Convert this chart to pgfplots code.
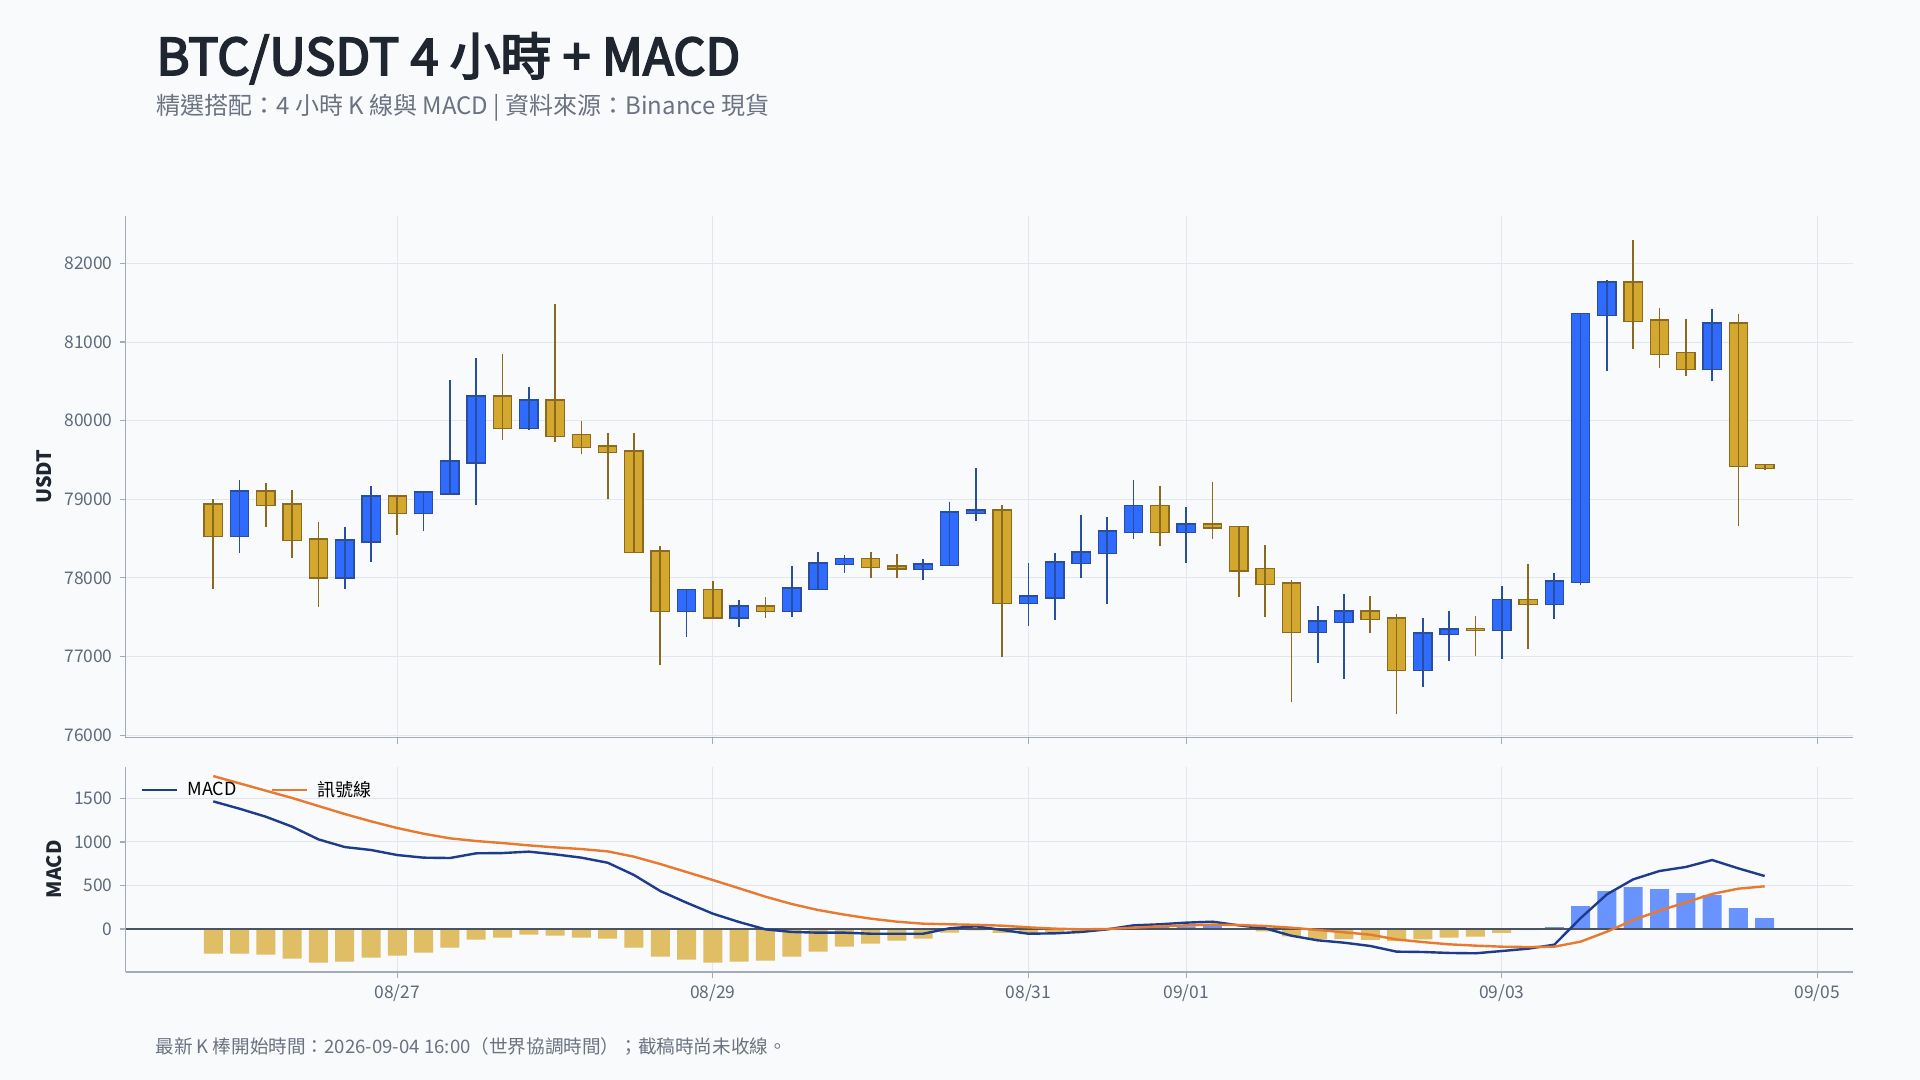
\documentclass[border=0pt]{standalone}
\usepackage{pgfplots}
\pgfplotsset{compat=1.18}
\usepackage{pgfplotstable}
\usepackage{fontspec}
\setmainfont{Noto Sans CJK TC}
\newfontfamily\titlefont{Noto Sans CJK TC}[FakeBold=3.5]
\definecolor{bg}{HTML}{F8FAFC}
\definecolor{titlec}{HTML}{1F2630}
\definecolor{subc}{HTML}{6B7280}
\definecolor{tickc}{HTML}{5F6B7A}
\definecolor{gridc}{HTML}{E2E6EE}
\definecolor{axisc}{HTML}{A3AAB8}
\definecolor{upfill}{HTML}{2F6BFF}
\definecolor{upedge}{HTML}{2A4E9E}
\definecolor{dnfill}{HTML}{D4A72E}
\definecolor{dnedge}{HTML}{8A6A1E}
\definecolor{histup}{HTML}{6994FF}
\definecolor{histdn}{HTML}{E0BE66}
\definecolor{macdc}{HTML}{1E3C8C}
\definecolor{sigc}{HTML}{E8792F}
\definecolor{zeroc}{HTML}{4B5260}

% rising candles: index, open, high, low, close
\pgfplotstableread{
x o h l c
1 78536 79241 78321 79097
5 78006 78650 77862 78475
6 78466 79171 78208 79035
8 78825 79092 78602 79084
9 79075 80516 79048 79478
10 79470 80796 78921 80306
12 79907 80428 79885 80253
18 77581 77848 77253 77848
20 77498 77721 77380 77634
22 77581 78151 77507 77862
23 77862 78330 77862 78181
24 78181 78291 78067 78234
27 78116 78243 77967 78168
28 78168 78965 78168 78829
29 78825 79399 78729 78856
31 77682 78190 77393 77761
32 77752 78317 77459 78194
33 78190 78799 77993 78321
34 78317 78777 77673 78589
35 78585 79246 78501 78908
37 78585 78904 78194 78676
42 77314 77643 76924 77445
43 77441 77796 76718 77572
46 76828 77489 76618 77292
47 77288 77581 76946 77340
49 77340 77897 76972 77713
51 77673 78063 77480 77953
52 77953 81370 77905 81352
53 81348 81790 80625 81755
57 80656 81422 80503 81234
}\upc

% falling candles: index, open, high, low, close
\pgfplotstableread{
x o h l c
0 78930 79000 77853 78536
2 79097 79206 78641 78930
3 78930 79119 78247 78483
4 78488 78711 77634 78006
7 79035 79035 78549 78825
11 80306 80849 79758 79907
13 80253 81484 79732 79806
14 79811 79995 79570 79666
15 79670 79841 79009 79600
16 79605 79841 78321 78330
17 78335 78405 76898 77581
19 77848 77962 77498 77498
21 77634 77752 77494 77581
25 78234 78330 77997 78137
26 78142 78304 77993 78120
30 78856 78926 76999 77682
36 78908 79171 78409 78585
38 78676 79219 78501 78641
39 78641 78659 77761 78098
40 78107 78418 77507 77923
41 77927 77971 76425 77314
44 77572 77770 77305 77476
45 77480 77542 76263 76828
48 77345 77515 77012 77340
50 77713 78177 77099 77673
54 81755 82298 80914 81269
55 81273 81431 80669 80849
56 80857 81291 80568 80656
58 81234 81357 78663 79425
59 79430 79430 79377 79399
}\dnc

% MACD and signal line
\pgfplotstableread{
x m s
0 1465 1756
1 1381 1672
2 1289 1588
3 1175 1504
4 1029 1412
5 941 1320
6 907 1236
7 849 1159
8 819 1094
9 815 1041
10 869 1010
11 872 987
12 888 960
13 857 937
14 819 918
15 761 891
16 620 830
17 436 746
18 302 654
19 176 562
20 80 467
21 -4 371
22 -34 287
23 -42 218
24 -42 165
25 -54 119
26 -54 84
27 -54 61
28 8 54
29 31 48
30 -11 38
31 -54 19
32 -50 4
33 -34 -4
34 -4 0
35 42 15
36 54 31
37 73 42
38 84 50
39 42 46
40 8 34
41 -77 15
42 -130 -11
43 -157 -38
44 -195 -65
45 -260 -120
46 -264 -150
47 -275 -176
48 -279 -191
49 -253 -203
50 -226 -207
51 -180 -203
52 125 -145
53 398 -31
54 570 103
55 666 210
56 712 306
57 792 402
58 696 463
59 608 490
}\macdtab

% histogram, negative part
\pgfplotstableread{
x v
0 -283
1 -283
2 -295
3 -341
4 -386
5 -375
6 -329
7 -306
8 -272
9 -214
10 -122
11 -99
12 -65
13 -77
14 -99
15 -111
16 -214
17 -318
18 -352
19 -386
20 -375
21 -363
22 -318
23 -260
24 -203
25 -168
26 -134
27 -111
28 -42
29 -17
30 -45
31 -60
32 -50
33 -30
34 -4
39 -4
40 -26
41 -85
42 -115
43 -117
44 -125
45 -140
46 -118
47 -99
48 -88
49 -45
50 -12
}\histneg

% histogram, positive part
\pgfplotstableread{
x v
35 27
36 23
37 31
38 34
51 22
52 264
53 436
54 482
55 459
56 413
57 390
58 241
59 126
}\histpos

\pgfplotsset{
  common/.style={
    scale only axis,
    width=863.8pt,
    xmin=-3.33, xmax=62.37,
    axis x line*=bottom, axis y line*=left,
    axis line style={-, draw=axisc, line width=0.6pt},
    xtick={7,19,31,37,49,61},
    grid=major,
    major grid style={draw=gridc, line width=0.5pt},
    tick align=outside,
    major tick length=3pt,
    tick style={draw=axisc, line width=0.6pt},
    ticklabel style={font=\fontsize{8.7}{10}\selectfont, text=tickc},
    /pgf/number format/assume math mode=true,
    /pgf/number format/1000 sep={},
    scaled y ticks=false,
    ylabel style={at={(axis description cs:0,0.5)}, anchor=center,
      font=\fontsize{9.9}{11}\selectfont\bfseries, text=titlec},
  },
  body/.style={draw=none, mark=none, forget plot,
    error bars/.cd, y dir=plus, y explicit, error mark=none,
    error bar style={draw=#1, line width=8.5pt}},
  bodyedge/.style={draw=none, mark=none, forget plot,
    error bars/.cd, y dir=plus, y explicit, error mark=none,
    error bar style={draw=#1, line width=9.8pt}},
  wick/.style={draw=none, mark=none, forget plot,
    error bars/.cd, y dir=plus, y explicit, error mark=none,
    error bar style={draw=#1, line width=0.85pt}},
}

\begin{document}
\begin{tikzpicture}
\useasboundingbox (0pt,0pt) rectangle (960pt,540pt);
\fill[bg] (0pt,0pt) rectangle (960pt,540pt);

\node[anchor=base west, inner sep=0pt, text=titlec,
  font=\fontsize{25.3}{30}\selectfont\titlefont] at (78pt,502.5pt) {BTC/USDT 4 小時 + MACD};
\node[anchor=base west, inner sep=0pt, text=subc,
  font=\fontsize{12}{14}\selectfont] at (78pt,482.5pt) {精選搭配：4 小時 K 線與 MACD | 資料來源：Binance 現貨};
\node[anchor=base west, inner sep=0pt, text=subc,
  font=\fontsize{9.3}{11}\selectfont] at (77.5pt,13.2pt) {最新 K 棒開始時間：2026-09-04 16:00（世界協調時間）；截稿時尚未收線。};

% price panel
\begin{axis}[common,
  at={(62.85pt,171.2pt)}, anchor=south west,
  height=260.85pt,
  ymin=75969, ymax=82604,
  ytick={76000,77000,78000,79000,80000,81000,82000},
  xticklabels={},
  ylabel={USDT},
  ylabel style={yshift=40.85pt},
]
\addplot[bodyedge=upedge] table[x=x, y expr=\thisrow{o}-17, y error plus expr=\thisrow{c}-\thisrow{o}+34] {\upc};
\addplot[body=upfill] table[x=x, y=o, y error plus expr=\thisrow{c}-\thisrow{o}] {\upc};
\addplot[wick=upedge] table[x=x, y=l, y error plus expr=\thisrow{h}-\thisrow{l}] {\upc};
\addplot[bodyedge=dnedge] table[x=x, y expr=\thisrow{c}-17, y error plus expr=\thisrow{o}-\thisrow{c}+34] {\dnc};
\addplot[body=dnfill] table[x=x, y=c, y error plus expr=\thisrow{o}-\thisrow{c}] {\dnc};
\addplot[wick=dnedge] table[x=x, y=l, y error plus expr=\thisrow{h}-\thisrow{l}] {\dnc};
\end{axis}

% MACD panel
\begin{axis}[common,
  at={(62.85pt,54pt)}, anchor=south west,
  height=102.65pt,
  ymin=-493.6, ymax=1863.5,
  ytick={0,500,1000,1500},
  xticklabels={08/27,08/29,08/31,09/01,09/03,09/05},
  ylabel={MACD},
  ylabel style={yshift=35.9pt},
  legend style={at={(axis description cs:0.0083,0.8865)}, anchor=west,
    draw=none, fill=none, inner sep=0pt,
    font=\fontsize{9}{10}\selectfont, text=black,
    legend columns=2,
    /tikz/every even column/.append style={column sep=15pt}},
  legend cell align=left,
  legend image code/.code={\draw[#1] (0pt,0pt) -- (17.8pt,0pt); \path (20.3pt,0pt);},
]
\addplot[ybar, bar width=9.5pt, bar shift=0pt, fill=histdn, draw=none, forget plot] table[x=x, y=v] {\histneg};
\addplot[ybar, bar width=9.5pt, bar shift=0pt, fill=histup, draw=none, forget plot] table[x=x, y=v] {\histpos};
\addplot[zeroc, line width=1pt, forget plot] coordinates {(-3.33,0) (62.37,0)};
\addplot[macdc, line width=1.2pt] table[x=x, y=m] {\macdtab};
\addlegendentry{MACD}
\addplot[sigc, line width=1.2pt] table[x=x, y=s] {\macdtab};
\addlegendentry{訊號線}
\end{axis}
\end{tikzpicture}
\end{document}
